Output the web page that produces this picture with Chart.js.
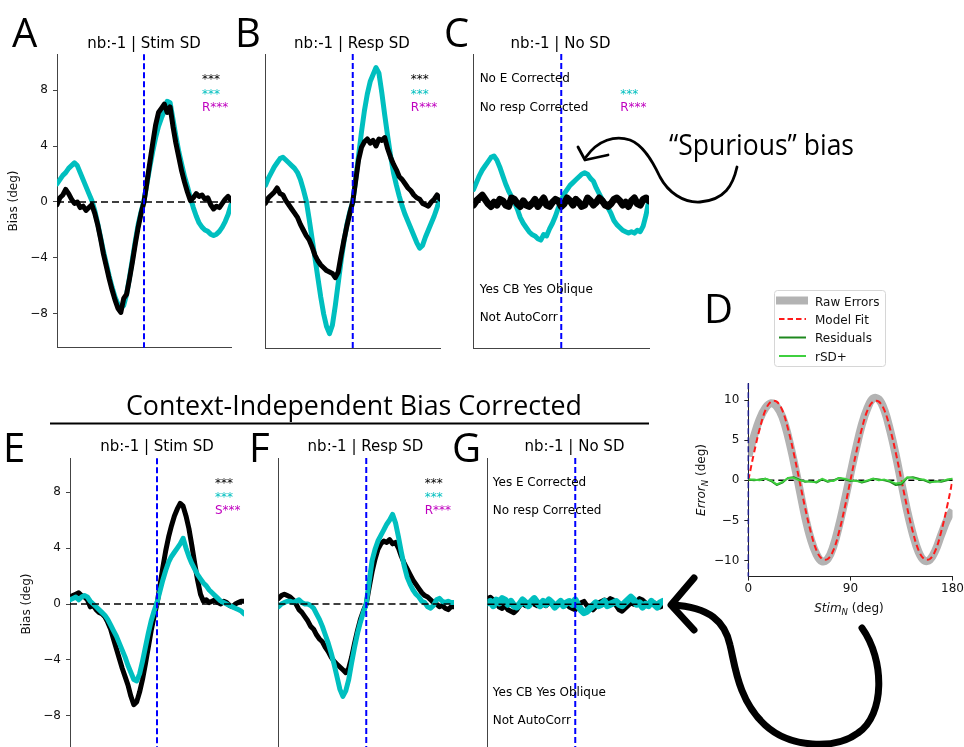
<!DOCTYPE html>
<html>
<head>
<meta charset="utf-8">
<title>Serial dependence bias curves</title>
<script src="https://cdn.jsdelivr.net/npm/chart.js@4.4.1/dist/chart.umd.min.js"></script>
<style>
  html, body { margin: 0; padding: 0; background: #fff; }
  #stage { position: relative; width: 964px; height: 747px; overflow: hidden; background: #fff; }
  #stage canvas { position: absolute; }
  #overlay { position: absolute; left: 0; top: 0; z-index: 5; pointer-events: none; }
</style>
</head>
<body>
<div id="stage">
<svg id="overlay" width="964" height="747" xmlns="http://www.w3.org/2000/svg">
  <!-- panel letters -->
  <g font-family="Open Sans" font-size="40" fill="#000">
    <text x="12" y="47">A</text>
    <text x="235" y="47">B</text>
    <text x="444" y="47">C</text>
    <text x="704" y="323">D</text>
    <text x="3" y="462">E</text>
    <text x="249" y="462">F</text>
    <text x="452" y="462">G</text>
  </g>
  <!-- panel titles -->
  <g font-family="DejaVu Sans" font-size="15" text-anchor="middle" fill="#000">
    <text x="144" y="47.5">nb:-1 | Stim SD</text>
    <text x="352" y="47.5">nb:-1 | Resp SD</text>
    <text x="560.5" y="47.5">nb:-1 | No SD</text>
    <text x="157" y="450.5">nb:-1 | Stim SD</text>
    <text x="365.5" y="450.5">nb:-1 | Resp SD</text>
    <text x="574.5" y="450.5">nb:-1 | No SD</text>
  </g>
  <!-- section heading -->
  <text x="126" y="415" font-family="Open Sans" font-size="28" fill="#000" textLength="456" lengthAdjust="spacingAndGlyphs">Context-Independent Bias Corrected</text>
  <line x1="50" y1="423.5" x2="649" y2="423.5" stroke="#000" stroke-width="2"/>
  <!-- callout -->
  <text x="669" y="155" font-family="Open Sans" font-size="30" fill="#000" textLength="185" lengthAdjust="spacingAndGlyphs">“Spurious” bias</text>
  <g fill="none" stroke="#000" stroke-linecap="round" stroke-linejoin="round">
    <path d="M737,167 C733,185 725,200 700,202 C683,203 668,192 660,177 C652,160 643,145 630,140 C615,135 598,140 586,157" stroke-width="2.8"/>
    <path d="M578,147 L585,160 L608,155" stroke-width="2.8"/>
    <path d="M862,628 C885,660 885,715 858,733 C835,750 790,748 765,725 C738,700 735,665 730,645 C725,622 710,607 672,605" stroke-width="7"/>
    <path d="M694,578 L671,605 L694,630" stroke-width="7"/>
  </g>
  <!-- legend for panel D -->
  <rect x="774.5" y="290.5" width="111" height="76" rx="3" fill="#fff" stroke="#d6d6d6" stroke-width="1"/>
  <line x1="776" y1="300.5" x2="808" y2="300.5" stroke="#b3b3b3" stroke-width="8"/>
  <line x1="779" y1="319" x2="806" y2="319" stroke="#ff1a1a" stroke-width="2" stroke-dasharray="5.5,3"/>
  <line x1="779" y1="337.5" x2="806" y2="337.5" stroke="#1e881e" stroke-width="2"/>
  <line x1="779" y1="356" x2="806" y2="356" stroke="#3fd03f" stroke-width="2"/>
  <g font-family="DejaVu Sans" font-size="12" fill="#111">
    <text x="815" y="305.5">Raw Errors</text>
    <text x="815" y="323.5">Model Fit</text>
    <text x="815" y="342">Residuals</text>
    <text x="815" y="360.5">rSD+</text>
  </g>
  <!-- axis titles for panel D -->
  <text x="849" y="612" font-family="DejaVu Sans" font-size="12" text-anchor="middle" fill="#111"><tspan font-style="italic">Stim</tspan><tspan font-style="italic" font-size="8.5" dy="3">N</tspan><tspan dy="-3"> (deg)</tspan></text>
  <text transform="translate(704.5,480) rotate(-90)" font-family="DejaVu Sans" font-size="12" text-anchor="middle" fill="#111"><tspan font-style="italic">Error</tspan><tspan font-style="italic" font-size="8.5" dy="3">N</tspan><tspan dy="-3"> (deg)</tspan></text>
</svg>
</div>

<script>
// ---- x positions (stimulus difference, deg) ----
const binCenters = [-90,-87,-84,-81,-78,-75,-72,-69,-66,-63,
  -60,-57,-54,-51,-48,-45,-42,-39,-36,-33,
  -30,-27,-24,-21,-18,-15,-12,-9,-6,-3,
  0,3,6,9,12,15,18,21,24,27,
  30,33,36,39,42,45,48,51,54,57,
  60,63,66,69,72,75,78,81,84,87,
  90];

// ---- tick labels ----
const biasTicks = [-8, -4, 0, 4, 8];
const errorTicks = [-10, -5, 0, 5, 10];
const stimTicks = [0, 90, 180];

// ---- A: stimulus SD, uncorrected ----
const stimSdCyan = [1.3,1.6,1.9,2.1,2.4,2.6,2.8,2.6,2.1,1.6,
  1.1,0.6,0.1,-0.6,-1.5,-2.5,-3.5,-4.4,-5.3,-6.1,
  -6.8,-7.3,-7.6,-7.4,-6.6,-5.4,-4.1,-2.8,-1.6,-0.7,
  0.1,1.3,2.5,3.6,4.6,5.4,6.0,6.5,7.2,7.1,
  5.9,4.7,3.6,2.7,1.8,1.1,0.3,-0.4,-1.0,-1.5,
  -1.8,-2.0,-2.1,-2.3,-2.4,-2.3,-2.1,-1.8,-1.4,-0.9,
  -0.2];
const stimSdBlack = [-0.2,0.3,0.5,0.9,0.6,0.2,-0.1,0.0,-0.4,-0.3,
  -0.6,-0.4,-0.2,-0.8,-1.6,-2.6,-3.7,-4.6,-5.5,-6.3,
  -7.0,-7.6,-7.9,-6.9,-6.6,-5.5,-4.3,-3.0,-1.8,-0.8,
  0.0,1.4,2.8,4.2,5.5,6.4,6.7,7.0,6.4,6.8,
  5.4,4.2,3.2,2.2,1.4,0.7,0.1,0.3,0.6,0.4,
  0.5,0.2,0.3,-0.2,-0.5,-0.3,-0.4,-0.1,0.2,0.4,
  0.1];

// ---- B: response SD, uncorrected ----
const respSdCyan = [1.2,1.7,2.1,2.5,2.8,3.1,3.2,3.0,2.8,2.6,
  2.4,2.1,1.6,0.9,0.1,-1.2,-2.6,-4.0,-5.4,-6.8,
  -8.0,-8.9,-9.4,-8.8,-7.4,-5.8,-4.2,-2.8,-1.6,-0.7,
  0.0,1.6,3.3,5.0,6.5,7.7,8.6,9.1,9.6,9.2,
  7.8,6.2,4.7,3.3,2.1,1.2,0.4,-0.3,-0.9,-1.4,
  -1.9,-2.4,-2.9,-3.3,-3.1,-2.5,-2.0,-1.5,-1.0,-0.4,
  0.3];
const respSdBlack = [-0.1,0.3,0.5,0.7,1.0,0.6,0.5,0.1,-0.2,-0.5,
  -0.8,-1.1,-1.6,-2.0,-2.4,-2.7,-3.2,-3.8,-4.2,-4.5,
  -4.7,-4.9,-5.0,-5.1,-5.4,-5.0,-3.8,-2.7,-1.7,-0.8,
  0.0,1.5,3.0,3.9,4.3,4.5,4.2,4.4,4.0,4.5,
  4.4,4.6,3.8,3.2,2.7,2.3,1.8,1.6,1.3,1.0,
  0.8,0.5,0.3,0.2,-0.1,-0.2,-0.3,0.0,0.2,0.5,
  0.2];

// ---- C: no SD, uncorrected ----
const noSdCyan = [0.9,1.4,1.9,2.3,2.6,2.9,3.2,3.3,3.0,2.5,
  1.9,1.3,0.8,0.4,0.0,-0.5,-1.1,-1.5,-1.8,-2.1,
  -2.3,-2.4,-2.6,-2.7,-2.3,-2.4,-1.9,-1.5,-1.0,-0.4,
  0.1,0.6,0.9,1.2,1.4,1.6,1.8,2.0,2.1,2.0,
  1.7,1.5,1.0,0.6,0.2,-0.1,-0.4,-0.8,-1.3,-1.6,
  -1.8,-2.0,-2.1,-2.2,-2.1,-2.2,-2.0,-2.1,-1.7,-0.9,
  0.2];
const noSdBlack = [-0.2,0.1,0.3,0.5,0.2,-0.1,-0.3,0.0,-0.2,0.2,
  0.1,-0.2,-0.3,0.3,0.2,-0.1,-0.3,0.1,-0.2,-0.3,
  -0.1,0.2,-0.3,0.0,0.3,-0.2,-0.3,0.0,0.2,0.1,
  -0.3,-0.1,0.3,0.1,-0.2,0.2,0.0,-0.3,-0.2,0.3,
  0.1,-0.2,0.0,0.3,0.1,-0.2,-0.3,-0.1,0.2,0.3,
  0.1,-0.2,0.0,-0.3,0.1,0.3,-0.1,-0.2,0.2,0.3,
  0.1];

// ---- E: stimulus SD, corrected ----
const stimSdCorrCyan = [0.3,0.4,0.5,0.3,0.5,0.6,0.5,0.2,0.0,-0.2,
  -0.4,-0.6,-0.8,-1.1,-1.5,-1.9,-2.3,-2.8,-3.3,-3.8,
  -4.4,-4.9,-5.4,-5.5,-5.0,-4.1,-3.1,-2.1,-1.2,-0.5,
  0.1,0.9,1.7,2.4,3.0,3.4,3.7,4.0,4.3,4.7,
  4.0,3.4,2.9,2.5,2.1,1.8,1.5,1.3,1.0,0.8,
  0.6,0.4,0.2,0.1,0.0,-0.1,-0.2,-0.3,-0.4,-0.5,
  -0.7];
const stimSdCorrBlack = [0.5,0.6,0.7,0.8,0.6,0.5,0.3,-0.2,-0.1,-0.4,
  -0.6,-0.7,-0.9,-1.3,-1.8,-2.5,-3.2,-3.9,-4.6,-5.2,
  -5.8,-6.6,-7.2,-7.0,-6.3,-5.4,-4.3,-3.1,-1.9,-0.9,
  0.0,1.3,2.6,3.8,4.8,5.6,6.3,6.8,7.2,7.0,
  6.3,5.4,4.2,2.9,1.7,0.7,0.2,0.3,0.1,0.2,
  0.3,0.1,0.0,0.2,0.1,-0.1,-0.2,0.0,0.1,0.2,
  0.2];

// ---- F: response SD, corrected ----
const respSdCorrCyan = [-0.2,0.0,0.1,0.2,0.2,0.1,0.2,0.3,0.1,0.0,
  0.0,-0.1,-0.3,-0.7,-1.1,-1.6,-2.2,-2.8,-3.5,-4.3,
  -5.2,-6.1,-6.6,-6.2,-5.4,-4.2,-3.1,-2.1,-1.3,-0.6,
  0.0,1.6,3.1,3.9,4.5,4.9,5.3,5.7,6.0,6.4,
  5.8,4.8,3.7,2.7,1.9,1.4,1.0,0.7,0.5,0.2,
  0.1,-0.2,-0.3,-0.1,0.3,0.4,0.2,0.1,0.2,0.1,
  0.1];
const respSdCorrBlack = [0.4,0.6,0.7,0.6,0.5,0.3,0.0,-0.4,-0.6,-0.9,
  -1.2,-1.6,-1.8,-2.2,-2.5,-2.7,-3.1,-3.4,-3.8,-4.1,
  -4.3,-4.5,-4.7,-4.9,-4.6,-3.8,-2.8,-1.9,-1.1,-0.5,
  0.0,1.2,2.3,3.2,3.9,4.3,4.5,4.4,4.6,4.3,
  4.4,4.0,3.4,2.9,2.5,2.1,1.7,1.4,1.1,0.8,
  0.6,0.5,0.3,0.1,0.0,-0.2,-0.1,-0.3,-0.4,-0.2,
  -0.2];

// ---- G: no SD, corrected ----
const noSdCorrCyan = [0.1,0.2,-0.1,0.3,0.1,0.4,0.3,0.0,0.2,-0.1,
  -0.2,0.0,0.3,0.1,-0.1,0.2,0.4,0.1,-0.1,0.2,
  0.0,0.3,0.1,-0.2,0.0,0.2,-0.1,0.1,0.2,0.0,
  0.3,-0.1,-0.4,-0.6,-0.5,-0.3,-0.1,0.1,-0.1,0.0,
  0.2,-0.1,0.0,0.1,0.2,0.0,-0.1,0.1,0.3,0.5,
  0.3,0.0,0.1,-0.2,0.0,-0.1,0.2,0.0,-0.2,0.1,
  0.2];
const noSdCorrBlack = [0.4,0.5,0.3,0.1,-0.2,-0.3,-0.1,-0.4,-0.5,-0.6,
  -0.4,-0.1,0.1,-0.1,0.0,0.2,0.0,-0.1,0.1,0.0,
  -0.1,0.1,0.0,-0.1,0.0,0.1,-0.1,0.0,-0.2,-0.3,
  -0.4,-0.1,0.1,0.2,-0.1,-0.3,-0.4,-0.2,0.1,0.2,
  0.3,0.2,0.4,0.3,-0.1,-0.4,-0.5,-0.3,-0.1,0.1,
  0.0,0.2,0.4,0.3,0.1,-0.1,0.0,0.1,-0.1,-0.2,
  -0.1];

// ---- D: model illustration ----
const dStim = [0,5,10,15,20,25,30,35,40,45,
  50,55,60,65,70,75,80,85,90,95,
  100,105,110,115,120,125,130,135,140,145,
  150,155,160,165,170,175,180];
const rawErrors = [3.0,5.5,7.6,9.0,9.6,9.2,7.9,5.5,2.4,-1.0,
  -4.5,-7.3,-9.2,-10.1,-9.8,-8.2,-5.6,-2.5,0.8,4.0,
  6.9,9.0,10.2,10.1,8.7,6.2,3.1,-0.4,-3.8,-6.7,
  -8.9,-10.0,-9.9,-8.7,-6.8,-5.0,-3.7];
const modelFit = [0,3.4,6.4,8.7,9.8,9.8,8.7,6.4,3.4,0,
  -3.4,-6.4,-8.7,-9.8,-9.8,-8.7,-6.4,-3.4,0,3.4,
  6.4,8.7,9.8,9.8,8.7,6.4,3.4,0,-3.4,-6.4,
  -8.7,-9.8,-9.8,-8.7,-6.4,-3.4,0];
const residuals = [0.1,0.0,0.1,0.2,-0.1,-0.6,-0.3,0.3,0.4,0.1,
  -0.2,-0.1,-0.3,0.1,-0.2,0.0,0.3,0.1,-0.1,0.0,
  -0.3,-0.1,0.2,0.1,0.0,-0.2,-0.6,-0.5,0.3,0.4,
  0.2,0.0,-0.3,-0.1,-0.2,0.0,0.2];
const rsdPlus = [0.1,0.1,0.0,0.2,0.0,-0.5,-0.2,0.3,0.3,0.0,
  -0.1,-0.2,-0.2,0.2,-0.1,-0.1,0.3,0.2,0.0,-0.1,
  -0.2,0.0,0.2,0.0,0.1,-0.1,-0.4,-0.3,0.4,0.3,
  0.1,0.1,-0.2,-0.2,-0.1,0.1,0.2];

// ---- styling ----
const FONT = 'DejaVu Sans';
const CYAN = '#00bfbf';
const MAGENTA = '#bf00bf';
const SPINE = '#444';
const TEXT = '#111';
const MINUS = '\u2212';
const fmt = v => (v < 0 ? MINUS + Math.abs(v) : String(v));

Chart.defaults.font.family = FONT;

const stage = document.getElementById('stage');
const overlay = document.getElementById('overlay');

// dashed reference lines: y = 0 and a vertical marker at x = vAt
function refLinesPlugin(o) {
  function zero(chart) {
    const { ctx, chartArea: a, scales: { y } } = chart;
    const py = y.getPixelForValue(0);
    ctx.save();
    ctx.strokeStyle = '#000';
    ctx.lineWidth = 1.6;
    ctx.setLineDash(o.zeroDash || [7, 4]);
    ctx.beginPath();
    ctx.moveTo(a.left, py);
    ctx.lineTo(a.right, py);
    ctx.stroke();
    ctx.restore();
  }
  function vert(chart) {
    const { ctx, chartArea: a, scales: { x } } = chart;
    const px = x.getPixelForValue(o.vAt);
    ctx.save();
    ctx.strokeStyle = o.vColor;
    ctx.lineWidth = o.vWidth || 2;
    ctx.setLineDash([6, 3]);
    ctx.beginPath();
    ctx.moveTo(px, a.top);
    ctx.lineTo(px, a.bottom);
    ctx.stroke();
    ctx.restore();
  }
  return {
    id: 'refLines',
    beforeDatasetsDraw(chart) { if (o.zeroBelow) zero(chart); },
    afterDatasetsDraw(chart) {
      if (!o.zeroBelow) zero(chart);
      vert(chart);
    }
  };
}

// text notes placed in axes-fraction coordinates (alphabetic baseline)
function notesPlugin(items) {
  return {
    id: 'panelNotes',
    afterDraw(chart) {
      const { ctx, chartArea: a } = chart;
      ctx.save();
      ctx.font = '12px "' + FONT + '"';
      ctx.textAlign = 'left';
      ctx.textBaseline = 'alphabetic';
      items.forEach(n => {
        ctx.fillStyle = n.color;
        ctx.fillText(n.text, a.left + n.fx * (a.right - a.left), a.top + n.fy * (a.bottom - a.top));
      });
      ctx.restore();
    }
  };
}

// size and place the canvas so the plotting area lands on the given box
function fitChart(chart, canvas, box) {
  for (let i = 0; i < 4; i++) {
    const a = chart.chartArea;
    const dw = box.w - (a.right - a.left);
    const dh = box.h - (a.bottom - a.top);
    if (Math.abs(dw) < 0.5 && Math.abs(dh) < 0.5) break;
    chart.resize(Math.round(chart.width + dw), Math.round(chart.height + dh));
  }
  const a = chart.chartArea;
  canvas.style.left = (box.x - a.left) + 'px';
  canvas.style.top = (box.y - a.top) + 'px';
}

function newCanvas(w, h) {
  const c = document.createElement('canvas');
  c.width = w;
  c.height = h;
  stage.insertBefore(c, overlay);
  return c;
}

const toPts = (xs, ys) => xs.map((x, i) => ({ x, y: ys[i] }));

function biasPanel(p) {
  const canvas = newCanvas(p.box.w + 70, p.box.h + 20);
  const chart = new Chart(canvas, {
    type: 'line',
    data: {
      datasets: [
        { label: 'cyan', data: toPts(binCenters, p.cyan), borderColor: CYAN, borderWidth: p.cyanWidth || 5,
          order: p.blackOnTop ? 2 : 1, clip: 0 },
        { label: 'black', data: toPts(binCenters, p.black), borderColor: '#000', borderWidth: p.blackWidth || 5,
          order: p.blackOnTop ? 1 : 2, clip: 0 }
      ]
    },
    options: {
      responsive: false,
      maintainAspectRatio: false,
      animation: false,
      events: [],
      layout: { padding: { top: 6, right: 4, bottom: 3, left: 0 } },
      elements: {
        point: { radius: 0 },
        line: { tension: 0, borderJoinStyle: 'round', borderCapStyle: 'round', fill: false }
      },
      plugins: { legend: { display: false }, tooltip: { enabled: false } },
      scales: {
        x: {
          type: 'linear', min: -90, max: 90,
          display: p.showBottom,
          ticks: { display: false },
          grid: { display: false, drawTicks: false },
          border: { display: true, color: SPINE, width: 1 }
        },
        y: {
          type: 'linear', min: p.yMin, max: p.yMax,
          afterBuildTicks: s => { s.ticks = biasTicks.map(v => ({ value: v })); },
          ticks: { display: p.showTicks, color: TEXT, font: { family: FONT, size: 12 }, padding: 5,
                   callback: v => fmt(v) },
          grid: { display: p.showTicks, drawOnChartArea: false, drawTicks: p.showTicks, tickLength: 4,
                  color: SPINE },
          border: { display: true, color: SPINE, width: 1 },
          title: { display: p.showTicks, text: 'Bias (deg)', color: TEXT,
                   font: { family: FONT, size: 12 }, padding: { top: 0, bottom: 4 } },
          afterFit: s => { if (p.showTicks) s.width = 50; }
        }
      }
    },
    plugins: [refLinesPlugin({ vAt: 0, vColor: '#0000ff', vWidth: 2 }), notesPlugin(p.notes)]
  });
  fitChart(chart, canvas, p.box);
}

const STAR_ROWS = [0.099, 0.148, 0.193];
const TEXT_ROWS = [0.095, 0.193, 0.813, 0.908];
const starNotes = tag => [
  { text: '***', color: '#000', fx: 0.833, fy: STAR_ROWS[0] },
  { text: '***', color: CYAN, fx: 0.833, fy: STAR_ROWS[1] },
  { text: tag + '***', color: MAGENTA, fx: 0.833, fy: STAR_ROWS[2] }
];

// top row (uncorrected)
biasPanel({ box: { x: 57, y: 54, w: 174, h: 294 }, yMin: -10.43, yMax: 10.57,
  cyan: stimSdCyan, black: stimSdBlack, showTicks: true, showBottom: true, blackOnTop: true,
  notes: starNotes('R') });
biasPanel({ box: { x: 265, y: 54, w: 174, h: 294 }, yMin: -10.43, yMax: 10.57,
  cyan: respSdCyan, black: respSdBlack, showTicks: false, showBottom: true, blackOnTop: true,
  notes: starNotes('R') });
biasPanel({ box: { x: 473, y: 54, w: 175, h: 294 }, yMin: -10.43, yMax: 10.57,
  cyan: noSdCyan, black: noSdBlack, showTicks: false, showBottom: true, blackOnTop: true, blackWidth: 7,
  notes: [
    { text: 'No E Corrected', color: '#000', fx: 0.035, fy: TEXT_ROWS[0] },
    { text: 'No resp Corrected', color: '#000', fx: 0.035, fy: TEXT_ROWS[1] },
    { text: '***', color: CYAN, fx: 0.836, fy: STAR_ROWS[1] },
    { text: 'R***', color: MAGENTA, fx: 0.836, fy: STAR_ROWS[2] },
    { text: 'Yes CB Yes Oblique', color: '#000', fx: 0.035, fy: TEXT_ROWS[2] },
    { text: 'Not AutoCorr', color: '#000', fx: 0.035, fy: TEXT_ROWS[3] }
  ] });

// bottom row (context-independent bias removed)
biasPanel({ box: { x: 70, y: 458, w: 174, h: 292 }, yMin: -10.43, yMax: 10.43,
  cyan: stimSdCorrCyan, black: stimSdCorrBlack, showTicks: true, showBottom: false, blackOnTop: false,
  notes: starNotes('S') });
biasPanel({ box: { x: 278, y: 458, w: 175, h: 292 }, yMin: -10.43, yMax: 10.43,
  cyan: respSdCorrCyan, black: respSdCorrBlack, showTicks: false, showBottom: false, blackOnTop: false,
  notes: starNotes('R') });
biasPanel({ box: { x: 487, y: 458, w: 175, h: 292 }, yMin: -10.43, yMax: 10.43,
  cyan: noSdCorrCyan, black: noSdCorrBlack, showTicks: false, showBottom: false, blackOnTop: false, cyanWidth: 7,
  notes: [
    { text: 'Yes E Corrected', color: '#000', fx: 0.03, fy: TEXT_ROWS[0] },
    { text: 'No resp Corrected', color: '#000', fx: 0.03, fy: TEXT_ROWS[1] },
    { text: 'Yes CB Yes Oblique', color: '#000', fx: 0.03, fy: TEXT_ROWS[2] },
    { text: 'Not AutoCorr', color: '#000', fx: 0.03, fy: TEXT_ROWS[3] }
  ] });

// panel D: raw errors, model fit and residuals
(function () {
  const box = { x: 748, y: 383, w: 204, h: 193 };
  const canvas = newCanvas(box.w + 60, box.h + 40);
  const chart = new Chart(canvas, {
    type: 'line',
    data: {
      datasets: [
        { label: 'Raw Errors', data: toPts(dStim, rawErrors), borderColor: '#b3b3b3', borderWidth: 8,
          tension: 0.4, order: 4, clip: 0, borderCapStyle: 'butt' },
        { label: 'Model Fit', data: toPts(dStim, modelFit), borderColor: '#ff1a1a', borderWidth: 2,
          borderDash: [6, 3.5], tension: 0.4, order: 3, clip: 0 },
        { label: 'Residuals', data: toPts(dStim, residuals), borderColor: '#1e881e', borderWidth: 1.8,
          tension: 0, order: 2, clip: 0 },
        { label: 'rSD+', data: toPts(dStim, rsdPlus), borderColor: '#3fd03f', borderWidth: 1.8,
          tension: 0, order: 1, clip: 0 }
      ]
    },
    options: {
      responsive: false,
      maintainAspectRatio: false,
      animation: false,
      events: [],
      layout: { padding: { top: 6, right: 2, bottom: 2, left: 0 } },
      elements: { point: { radius: 0 }, line: { borderJoinStyle: 'round', fill: false } },
      plugins: { legend: { display: false }, tooltip: { enabled: false } },
      scales: {
        x: {
          type: 'linear', min: 0, max: 180,
          afterBuildTicks: s => { s.ticks = stimTicks.map(v => ({ value: v })); },
          ticks: { color: TEXT, font: { family: FONT, size: 12 }, padding: 1, autoSkip: false, maxRotation: 0,
                   callback: v => fmt(v) },
          grid: { display: true, drawOnChartArea: false, drawTicks: true, tickLength: 4, color: '#222' },
          border: { display: true, color: '#222', width: 1 }
        },
        y: {
          type: 'linear', min: -12, max: 12.1,
          afterBuildTicks: s => { s.ticks = errorTicks.map(v => ({ value: v })); },
          ticks: { color: TEXT, font: { family: FONT, size: 12 }, padding: 5, callback: v => fmt(v) },
          grid: { display: true, drawOnChartArea: false, drawTicks: true, tickLength: 4, color: '#222' },
          border: { display: true, color: '#222', width: 1 }
        }
      }
    },
    plugins: [refLinesPlugin({ vAt: 0, vColor: '#1c1c8a', vWidth: 1.5, zeroBelow: true, zeroDash: [6, 4] })]
  });
  fitChart(chart, canvas, box);
})();
</script>
</body>
</html>
